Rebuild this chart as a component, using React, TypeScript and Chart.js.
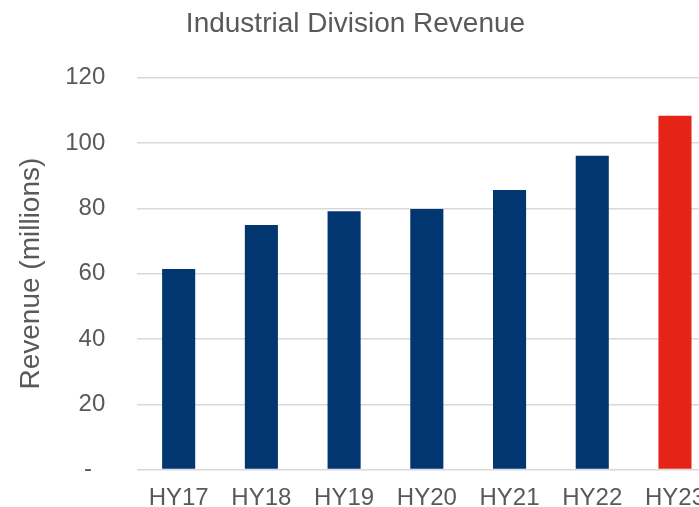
import React, { useEffect, useRef } from "react";
import { Chart, registerables } from "chart.js";

Chart.register(...registerables);

const categories = ["HY17", "HY18", "HY19", "HY20", "HY21", "HY22", "HY23"];
const revenue = [61.4, 74.9, 79.1, 79.8, 85.6, 96.1, 108.3];
const barColors = ["#023670", "#023670", "#023670", "#023670", "#023670", "#023670", "#e32416"];
const chartTitle = "Industrial Division Revenue";
const yAxisTitle = "Revenue (millions)";

const FONT = "'Liberation Sans', Arial, sans-serif";
const TEXT = "#595959";

export default function App() {
  const ref = useRef<HTMLCanvasElement | null>(null);

  useEffect(() => {
    if (!ref.current) return;
    const chart = new Chart(ref.current, {
      type: "bar",
      data: {
        labels: categories,
        datasets: [
          {
            data: revenue,
            backgroundColor: barColors,
            categoryPercentage: 1,
            barPercentage: 0.4,
          },
        ],
      },
      options: {
        responsive: false,
        animation: false,
        layout: { padding: { left: 0, right: 0, top: 0, bottom: 0 } },
        plugins: {
          legend: { display: false },
          tooltip: { enabled: false },
          title: {
            display: true,
            text: chartTitle,
            color: TEXT,
            font: { family: FONT, size: 28, weight: "normal" },
            padding: { top: 7, bottom: 37 },
          },
        },
        scales: {
          x: {
            grid: { display: false, drawTicks: false },
            border: { display: false },
            ticks: {
              color: TEXT,
              font: { family: FONT, size: 24 },
              padding: 14,
              maxRotation: 0,
              autoSkip: false,
            },
            afterFit: (scale: any) => {
              scale.height = 43.3;
            },
          },
          y: {
            min: 0,
            max: 120,
            grid: { color: "#d9d9d9", lineWidth: 1.5, drawTicks: false },
            border: { display: false },
            ticks: {
              stepSize: 20,
              color: TEXT,
              font: { family: FONT, size: 24 },
              padding: 32,
              callback: (v: any) => (Number(v) === 0 ? "-  " : String(v)),
            },
            title: {
              display: true,
              text: yAxisTitle,
              color: TEXT,
              font: { family: FONT, size: 28 },
              padding: { top: 22, bottom: 4 },
            },
            afterFit: (scale: any) => {
              scale.width = 145.3;
            },
          },
        },
      },
    });
    return () => chart.destroy();
  }, []);

  return (
    <div
      style={{
        position: "fixed",
        left: 0,
        top: 0,
        width: 699,
        height: 507,
        overflow: "hidden",
        background: "#fff",
      }}
    >
      <canvas
        ref={ref}
        width={727}
        height={516}
        style={{ display: "block", marginLeft: -8, width: 727, height: 516 }}
      />
    </div>
  );
}
